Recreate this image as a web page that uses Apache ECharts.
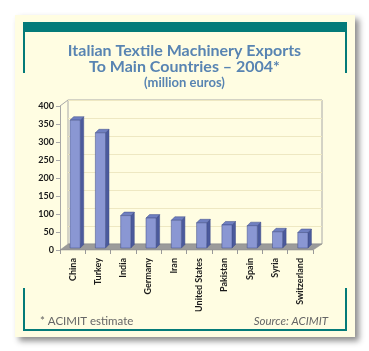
<!DOCTYPE html>
<html>
<head>
<meta charset="utf-8">
<script src="https://cdn.jsdelivr.net/npm/echarts@6/dist/echarts.min.js"></script>
<style>
  html, body { margin: 0; padding: 0; background: #fff; }
  #main { width: 369px; height: 351px; }
</style>
</head>
<body>
<div id="main"></div>
<script>
var countries = ['China', 'Turkey', 'India', 'Germany', 'Iran', 'United States', 'Pakistan', 'Spain', 'Syria', 'Switzerland'];
var exports2004 = [355, 320, 90, 83, 77, 70, 64, 62, 45, 43];
var yTicks = [0, 50, 100, 150, 200, 250, 300, 350, 400];

var chart = echarts.init(document.getElementById('main'));

// 3d look: bars sit a bit behind the front edge of the floor
var shiftX = 2.5, shiftY = -2, depth = 3.5;

function renderBar(params, api) {
  var i = api.value(0);
  var base = api.coord([i, 0]);
  var top = api.coord([i, api.value(1)]);
  var w = api.size([1, 0])[0] * 0.4;
  var x0 = base[0] - w / 2 + shiftX;
  var x1 = x0 + w;
  var yb = base[1] + shiftY;
  var yt = top[1] + shiftY;
  return {
    type: 'group',
    children: [
      {
        type: 'polygon',
        shape: { points: [[x1, yt], [x1 + depth, yt - depth], [x1 + depth, yb - depth], [x1, yb]] },
        style: { fill: '#4b5a9c', stroke: '#3e4c88', lineWidth: 0.5 }
      },
      {
        type: 'polygon',
        shape: { points: [[x0, yt], [x0 + depth, yt - depth], [x1 + depth, yt - depth], [x1, yt]] },
        style: { fill: '#6f7fc0', stroke: '#3e4c88', lineWidth: 0.5 }
      },
      {
        type: 'rect',
        shape: { x: x0, y: yt, width: w, height: yb - yt },
        style: { fill: '#8a97d3', stroke: '#3e4c88', lineWidth: 0.5 }
      }
    ]
  };
}

var option = {
  animation: false,
  title: [
    {
      text: 'Italian Textile Machinery Exports\nTo Main Countries \u2013 2004*',
      left: 'center', top: 38,
      textStyle: { fontFamily: 'Lato', fontWeight: 'bold', fontSize: 16, lineHeight: 16, color: '#5884b2' }
    },
    {
      text: '(million euros)',
      left: 'center', top: 71,
      textStyle: { fontFamily: 'Lato', fontWeight: 'bold', fontSize: 13, color: '#5884b2' }
    }
  ],
  graphic: [
    { type: 'rect', z: -10, shape: { x: 15, y: 15, width: 340, height: 322 },
      style: { fill: '#fffde2', shadowBlur: 6, shadowOffsetX: 4, shadowOffsetY: 4, shadowColor: 'rgba(0,0,0,0.45)' } },
    { type: 'rect', z: -9, shape: { x: 23, y: 22, width: 324, height: 10 }, style: { fill: '#047b79' } },
    { type: 'rect', z: -9, shape: { x: 23, y: 32, width: 2, height: 41 }, style: { fill: '#047b79' } },
    { type: 'rect', z: -9, shape: { x: 345, y: 32, width: 2, height: 41 }, style: { fill: '#047b79' } },
    { type: 'rect', z: -9, shape: { x: 23, y: 288, width: 2, height: 43 }, style: { fill: '#047b79' } },
    { type: 'rect', z: -9, shape: { x: 345, y: 288, width: 2, height: 43 }, style: { fill: '#047b79' } },
    { type: 'rect', z: -9, shape: { x: 23, y: 329, width: 324, height: 2 }, style: { fill: '#047b79' } },
    // floor
    { type: 'polygon', z: 1, shape: { points: [[60, 250], [313, 250], [322, 244], [68, 244]] },
      style: { fill: '#9b9b9b', stroke: '#8a8a8a', lineWidth: 0.5 } },
    // left wall top edge
    { type: 'line', z: 1, shape: { x1: 60, y1: 106, x2: 68, y2: 100 }, style: { stroke: '#a8a8a8', lineWidth: 1 } },
    { type: 'text', z: 1, left: 40, top: 315,
      style: { text: '* ACIMIT estimate', fontFamily: 'Lato', fontSize: 11.5, fill: '#666' } },
    { type: 'text', z: 1, right: 41, top: 315,
      style: { text: 'Source: ACIMIT', fontFamily: 'Lato', fontStyle: 'italic', fontSize: 11.5, fill: '#666' } }
  ],
  grid: [
    { left: 60, right: 56, top: 106, bottom: 101 },
    { left: 68, right: 47, top: 100, bottom: 107, show: true, borderColor: '#a8a8a8', borderWidth: 1, backgroundColor: 'transparent' }
  ],
  xAxis: [
    {
      type: 'category', gridIndex: 0, data: countries,
      axisLine: { show: false },
      axisTick: { show: true, lineStyle: { color: '#999' }, length: 4 },
      axisLabel: { rotate: 90, margin: 8, fontFamily: 'Lato', fontWeight: 'bold', fontSize: 9, color: '#1a1a1a' }
    },
    {
      type: 'category', gridIndex: 1, data: countries,
      axisLine: { show: false }, axisTick: { show: false }, axisLabel: { show: false }
    }
  ],
  yAxis: [
    {
      type: 'value', gridIndex: 0, min: 0, max: 400, interval: 50,
      axisLine: { show: true, lineStyle: { color: '#a8a8a8' } },
      axisTick: { show: true, length: 4, lineStyle: { color: '#a8a8a8' } },
      axisLabel: { margin: 6, fontFamily: 'Lato', fontWeight: 'bold', fontSize: 9, color: '#1a1a1a',
        formatter: function (v) { return yTicks.indexOf(v) >= 0 ? String(v) : ''; } },
      splitLine: { show: false }
    },
    {
      type: 'value', gridIndex: 1, min: 0, max: 400, interval: 50,
      axisLine: { show: false }, axisTick: { show: false }, axisLabel: { show: false },
      splitLine: { show: true, lineStyle: { color: '#eee8c2', width: 1 } }
    }
  ],
  series: [
    {
      type: 'custom', xAxisIndex: 0, yAxisIndex: 0, z: 5,
      renderItem: renderBar,
      data: exports2004.map(function (v, i) { return [i, v]; })
    }
  ]
};

chart.setOption(option);
</script>
</body>
</html>
